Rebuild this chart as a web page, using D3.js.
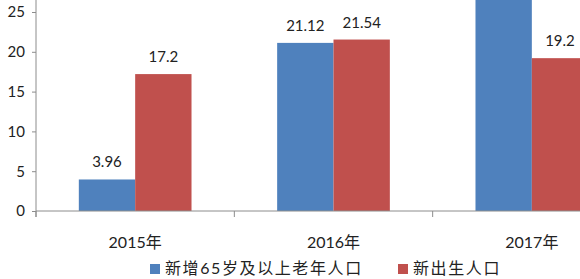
<!DOCTYPE html>
<html><head><meta charset="utf-8">
<script src="https://cdn.jsdelivr.net/npm/d3@7"></script>
<style>body{margin:0;background:#fff}svg{display:block}</style>
</head><body>
<svg id="c" width="580" height="279"></svg>
<script>
const categories = ["2015年", "2016年", "2017年"];
const seriesNames = ["新增65岁及以上老年人口", "新出生人口"];
const elderly = [3.96, 21.12, 30];
const births = [17.2, 21.54, 19.2];
const yTicks = [0, 5, 10, 15, 20, 25];
const colors = ["#4F81BD", "#C0504D"];

const svg = d3.select("#c");
const font = "Lato, 'Noto Sans CJK SC', sans-serif";
const y = d3.scaleLinear().domain([0, 30]).range([211, 211 - 30 * 7.96]);
const x0 = d3.scaleBand().domain(categories).range([36, 631]);
const x1 = d3.scaleBand().domain(seriesNames).range([0, x0.bandwidth()]).paddingOuter(0.76);
const axisColor = "#8c8c8c";

// y axis
const ya = svg.append("g").attr("transform", "translate(36,0)")
  .call(d3.axisLeft(y).tickValues(yTicks).tickSize(4).tickPadding(7).tickFormat(d3.format("d")));
ya.select(".domain").attr("stroke", axisColor).attr("d", "M0,217V-40");
ya.selectAll(".tick line").attr("stroke", axisColor);
ya.selectAll(".tick text").attr("font-family", font).attr("font-size", 15).attr("fill", "#222");

// bars
const data = categories.map((c, i) => ({cat: c, vals: [elderly[i], births[i]]}));
const g = svg.append("g");
data.forEach(d => {
  d.vals.forEach((v, j) => {
    const xx = x0(d.cat) + x1(seriesNames[j]);
    g.append("rect").attr("x", xx).attr("y", y(v))
      .attr("width", x1.bandwidth()).attr("height", y(0) - y(v)).attr("fill", colors[j]);
    if (y(v) - 12 > 14) {
      g.append("text").attr("x", xx + x1.bandwidth() / 2).attr("y", y(v) - 12)
        .attr("text-anchor", "middle").attr("font-family", font).attr("font-size", 15)
        .attr("fill", "#222").text(v);
    }
  });
});

// x axis
svg.append("line").attr("x1", 36).attr("x2", 580).attr("y1", y(0)).attr("y2", y(0)).attr("stroke", axisColor);
categories.forEach(c => {
  svg.append("line").attr("x1", x0(c)).attr("x2", x0(c)).attr("y1", y(0)).attr("y2", y(0) + 6).attr("stroke", axisColor);
  svg.append("text").attr("x", x0(c) + x0.bandwidth() / 2).attr("y", 248)
    .attr("text-anchor", "middle").attr("font-family", font).attr("font-size", 16)
    .attr("fill", "#222").text(c);
});

// legend
const legendX = [150, 398];
seriesNames.forEach((s, j) => {
  svg.append("rect").attr("x", legendX[j]).attr("y", 264).attr("width", 10).attr("height", 10).attr("fill", colors[j]);
  svg.append("text").attr("x", legendX[j] + 15).attr("y", 274).attr("font-family", font)
    .attr("font-size", 16).attr("letter-spacing", 1.6).attr("fill", "#222").text(s);
});
</script>
</body></html>
